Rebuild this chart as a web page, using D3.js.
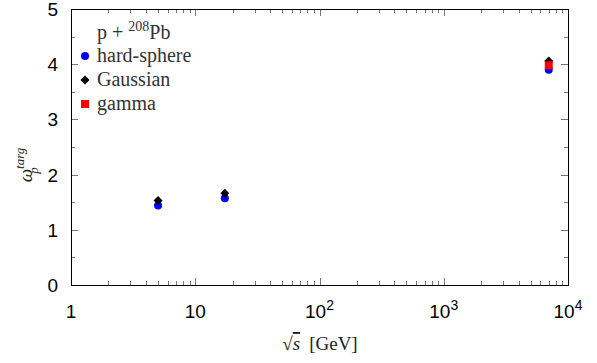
<!DOCTYPE html>
<html><head><meta charset="utf-8">
<script src="https://cdn.jsdelivr.net/npm/d3@7"></script>
<style>body{margin:0;background:#fff}svg{display:block}</style>
</head><body>
<svg id="c" width="597" height="363"></svg>
<script>
const energies = [5.02, 17.3, 7000];
const hardSphere = [1.44, 1.57, 3.90];
const gaussian = [1.53, 1.66, 4.06];
const gammaE = [7000];
const gammaV = [3.98];
const xTicks = [1, 10, 100, 1000, 10000];
const xTickLabels = ["1", "10", "10|2", "10|3", "10|4"];
const yTicks = [0, 1, 2, 3, 4, 5];
const legendLabels = ["hard-sphere", "Gaussian", "gamma"];

const svg = d3.select("#c");
const L = 71, R = 568, T = 9, B = 285;
const x = d3.scaleLog().domain([1, 10000]).range([L, R]);
const y = d3.scaleLinear().domain([0, 5]).range([B, T]);

const tickCol = "#777";
const xMinor = [];
for (let d = 1; d < 10000; d *= 10) for (let k = 2; k <= 9; k++) xMinor.push(d * k);
const g = svg.append("g").attr("stroke", tickCol).attr("stroke-width", 1);
xTicks.forEach(v => {
  const px = Math.round(x(v)) + 0.5;
  g.append("line").attr("x1", px).attr("x2", px).attr("y1", B).attr("y2", B - 7);
  g.append("line").attr("x1", px).attr("x2", px).attr("y1", T).attr("y2", T + 7);
});
xMinor.forEach(v => {
  const px = Math.round(x(v)) + 0.5;
  g.append("line").attr("x1", px).attr("x2", px).attr("y1", B).attr("y2", B - 4);
  g.append("line").attr("x1", px).attr("x2", px).attr("y1", T).attr("y2", T + 4);
});
d3.range(0, 5.01, 0.5).forEach(v => {
  const major = Math.abs(v - Math.round(v)) < 1e-6;
  const len = major ? 7 : 4;
  const py = Math.round(y(v)) + 0.5;
  g.append("line").attr("x1", L).attr("x2", L + len).attr("y1", py).attr("y2", py);
  g.append("line").attr("x1", R).attr("x2", R - len).attr("y1", py).attr("y2", py);
});
svg.append("rect").attr("x", L + 0.5).attr("y", T + 0.5).attr("width", R - L).attr("height", B - T)
  .attr("fill", "none").attr("stroke", "#000").attr("stroke-width", 1);

const lab = svg.append("g").attr("font-family", "Liberation Sans, Arial, sans-serif").attr("font-size", 19).attr("fill", "#000");
yTicks.forEach(v => {
  lab.append("text").attr("x", L - 13).attr("y", y(v) + 7).attr("text-anchor", "end").text(v);
});
xTicks.forEach((v, i) => {
  const parts = xTickLabels[i].split("|");
  const t = lab.append("text").attr("x", x(v)).attr("y", 318).attr("text-anchor", "middle");
  t.append("tspan").text(parts[0]);
  if (parts[1]) t.append("tspan").attr("dy", -8).attr("font-size", 14).text(parts[1]);
});

const serif = "Liberation Serif, DejaVu Serif, serif";
const xt = svg.append("text").attr("x", 320).attr("y", 350).attr("text-anchor", "middle")
  .attr("font-family", serif).attr("font-size", 19).attr("fill", "#222");
xt.append("tspan").text("\u221A");
xt.append("tspan").attr("font-style", "italic").attr("text-decoration", "overline").text("s");
xt.append("tspan").attr("dx", 9).text("[GeV]");

const yt = svg.append("text").attr("transform", "translate(32,165) rotate(-90)").attr("text-anchor", "middle")
  .attr("font-family", serif).attr("font-size", 19).attr("font-style", "italic").attr("fill", "#222");
yt.append("tspan").text("\u03C9");
yt.append("tspan").attr("dy", -8).attr("font-size", 13).text("targ");
yt.append("tspan").attr("dx", -26).attr("dy", 14).attr("font-size", 13).text("p");

const blue = "#0000ff", red = "#ff0000", black = "#000";
const diamond = "M0,-4.5L4.5,0L0,4.5L-4.5,0Z";
svg.append("g").selectAll("circle").data(energies).join("circle")
  .attr("cx", d => x(d)).attr("cy", (d, i) => y(hardSphere[i])).attr("r", 4).attr("fill", blue);
svg.append("g").selectAll("path").data(energies).join("path")
  .attr("d", diamond).attr("transform", (d, i) => `translate(${x(d)},${y(gaussian[i])})`).attr("fill", black);
svg.append("g").selectAll("rect").data(gammaE).join("rect")
  .attr("x", d => x(d) - 4).attr("y", (d, i) => y(gammaV[i]) - 4).attr("width", 8).attr("height", 8).attr("fill", red);

const lg = svg.append("g").attr("font-family", serif).attr("font-size", 20).attr("fill", "#333");
const lt = lg.append("text").attr("x", 97).attr("y", 39);
lt.append("tspan").text("p + ");
lt.append("tspan").attr("dy", -8).attr("font-size", 14).text("208");
lt.append("tspan").attr("dy", 8).text("Pb");
const rowY = [56, 80, 104];
lg.append("circle").attr("cx", 85).attr("cy", rowY[0]).attr("r", 4).attr("fill", blue);
lg.append("path").attr("d", diamond).attr("transform", `translate(85,${rowY[1]})`).attr("fill", black);
lg.append("rect").attr("x", 81).attr("y", rowY[2] - 4).attr("width", 8).attr("height", 8).attr("fill", red);
legendLabels.forEach((s, i) => lg.append("text").attr("x", 97).attr("y", rowY[i] + 6).text(s));
</script>
</body></html>
